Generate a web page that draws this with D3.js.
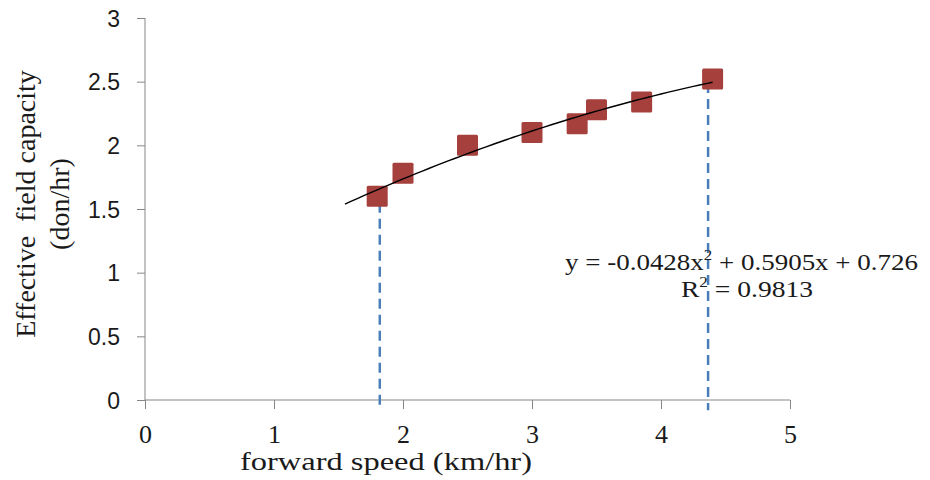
<!DOCTYPE html>
<html><head><meta charset="utf-8">
<script src="https://cdn.jsdelivr.net/npm/d3@7"></script>
<style>body{margin:0;background:#fff}svg{display:block}</style>
</head><body>
<svg id="c" width="930" height="480"></svg>
<script>
const speeds = [1.8, 2.0, 2.5, 3.0, 3.35, 3.5, 3.85, 4.4];
const capacities = [1.6, 1.78, 2.0, 2.1, 2.17, 2.28, 2.34, 2.52];
const xTicks = [0, 1, 2, 3, 4, 5];
const yTicks = [0, 0.5, 1, 1.5, 2, 2.5, 3];
const trendCoef = [-0.0428, 0.5905, 0.726];
const trendRange = [1.55, 4.4];
const dropX = [1.82, 4.365];
const dropTop = [1.55, 2.49];
const dropBottom = -0.08;
const eqText = "y = -0.0428x";
const eqText2 = " + 0.5905x + 0.726";
const r2Val = " = 0.9813";

const serif = "'Liberation Serif', 'Times New Roman', serif";
const svg = d3.select("#c");
const x = d3.scaleLinear().domain([0,5]).range([145,790]);
const y = d3.scaleLinear().domain([0,3]).range([400,18]);
const axisCol = "#878787";

// y axis
const ya = svg.append("g").attr("transform","translate(145,0)")
  .call(d3.axisLeft(y).tickValues(yTicks).tickSize(8).tickPadding(17).tickFormat(d3.format("")));
ya.selectAll("path,line").attr("stroke",axisCol);
ya.select(".domain").attr("d","M0,18V400");
ya.selectAll("text").attr("font-family","'Liberation Sans', Arial, sans-serif").attr("font-size",23).attr("fill","#1a1a1a").attr("dy","0.36em");

// x axis
const xa = svg.append("g").attr("transform","translate(0,400)")
  .call(d3.axisBottom(x).tickValues(xTicks).tickSize(9).tickPadding(0).tickFormat(d3.format("")));
xa.selectAll("path,line").attr("stroke",axisCol);
xa.select(".domain").attr("d","M145,0H790");
xa.selectAll("text").attr("font-family",serif).attr("font-size",26).attr("fill","#1a1a1a")
  .attr("y",43).attr("dy",null);

// drop lines
svg.append("g").selectAll("line").data(dropX).join("line")
  .attr("x1",d=>x(d)).attr("x2",d=>x(d))
  .attr("y1",(d,i)=>y(dropTop[i])).attr("y2",y(dropBottom))
  .attr("stroke","#4A7EBB").attr("stroke-width",2.5).attr("stroke-dasharray","10,6");

// markers
const s = 21;
svg.append("g").selectAll("rect").data(speeds).join("rect")
  .attr("x",d=>x(d)-s/2).attr("y",(d,i)=>y(capacities[i])-s/2)
  .attr("width",s).attr("height",s).attr("rx",1.5)
  .attr("fill","#A5403C");

// trend line
const f = v => trendCoef[0]*v*v + trendCoef[1]*v + trendCoef[2];
const tx = d3.range(trendRange[0], trendRange[1]+0.0001, 0.05);
svg.append("path").datum(tx)
  .attr("d", d3.line().x(d=>x(d)).y(d=>y(f(d))))
  .attr("fill","none").attr("stroke","#000").attr("stroke-width",1.4);

// equation
const eq = svg.append("text").attr("x",565).attr("y",270)
  .attr("textLength",353).attr("lengthAdjust","spacingAndGlyphs")
  .attr("font-family",serif).attr("font-size",24).attr("fill","#1a1a1a");
eq.append("tspan").text(eqText);
eq.append("tspan").attr("font-size",15).attr("dy",-10).text("2");
eq.append("tspan").attr("dy",10).text(eqText2);
const r2 = svg.append("text").attr("x",681).attr("y",297)
  .attr("textLength",132).attr("lengthAdjust","spacingAndGlyphs")
  .attr("font-family",serif).attr("font-size",24).attr("fill","#1a1a1a");
r2.append("tspan").text("R");
r2.append("tspan").attr("font-size",15).attr("dy",-10).text("2");
r2.append("tspan").attr("dy",10).text(r2Val);

// axis titles
svg.append("text").attr("x",240).attr("y",470)
  .attr("textLength",292).attr("lengthAdjust","spacingAndGlyphs")
  .attr("font-family",serif).attr("font-size",26).attr("fill","#1a1a1a")
  .text("forward speed (km/hr)");
const yt = svg.append("text").attr("transform","translate(0,204) rotate(-90)").attr("text-anchor","middle")
  .attr("font-family",serif).attr("font-size",28).attr("fill","#1a1a1a");
yt.append("tspan").attr("x",0).attr("y",35).attr("xml:space","preserve").text("Effective  field capacity");
yt.append("tspan").attr("x",0).attr("y",69).text("(don/hr)");
</script>
</body></html>
